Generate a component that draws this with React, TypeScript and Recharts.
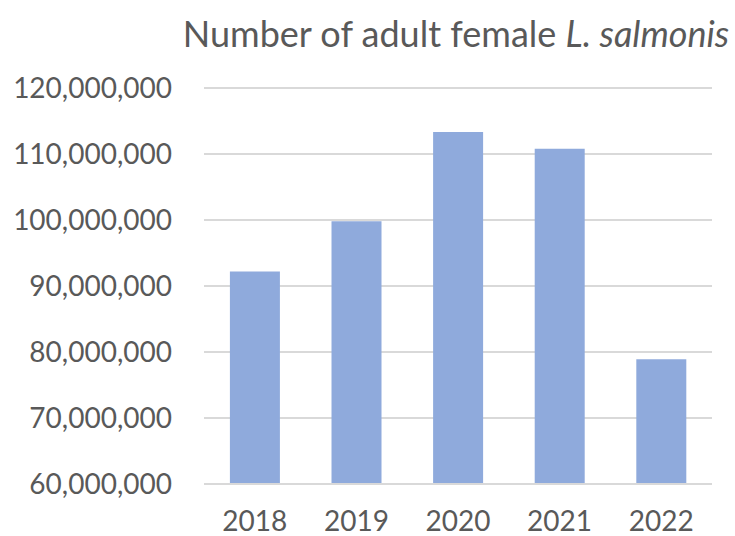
import { Bar, BarChart, CartesianGrid, XAxis, YAxis } from "recharts"

// Values
const years = ["2018", "2019", "2020", "2021", "2022"]
const femaleLice = [92200000, 99800000, 113350000, 110800000, 78900000]
const yTicks = [60000000, 70000000, 80000000, 90000000, 100000000, 110000000, 120000000]

const data = years.map((year, i) => ({ year, count: femaleLice[i] }))

const font = "Lato, 'Open Sans', sans-serif"
const textColor = "#595959"
const gridColor = "#D9D9D9"

export default function App() {
  return (
    <div style={{ position: "relative", width: 735, height: 536, background: "#fff" }}>
      <style>{"body{margin:0}"}</style>
      <BarChart
        width={735}
        height={536}
        data={data}
        margin={{ top: 88, right: 23, left: 0, bottom: 0 }}
        barCategoryGap="25.5%"
      >
        <CartesianGrid vertical={false} stroke={gridColor} strokeWidth={2} />
        <XAxis
          dataKey="year"
          height={52}
          tickLine={false}
          tickSize={0}
          tickMargin={27}
          axisLine={{ stroke: gridColor, strokeWidth: 2 }}
          tick={{ fill: textColor, fontSize: 28, fontFamily: font }}
        />
        <YAxis
          width={204}
          domain={[60000000, 120000000]}
          ticks={yTicks}
          allowDataOverflow
          tickLine={false}
          axisLine={false}
          tickSize={0}
          tickMargin={32}
          tickFormatter={(v: number) => v.toLocaleString("en-US")}
          tick={{ fill: textColor, fontSize: 28, fontFamily: font }}
        />
        <Bar dataKey="count" fill="#8FAADC" isAnimationActive={false} />
      </BarChart>
      <svg
        width={735}
        height={536}
        style={{ position: "absolute", left: 0, top: 0, pointerEvents: "none" }}
      >
        <text x={456} y={46.7} textAnchor="middle" fill={textColor} fontSize={36} fontFamily={font}>
          Number of adult female <tspan fontStyle="italic">L. salmonis</tspan>
        </text>
      </svg>
    </div>
  )
}
